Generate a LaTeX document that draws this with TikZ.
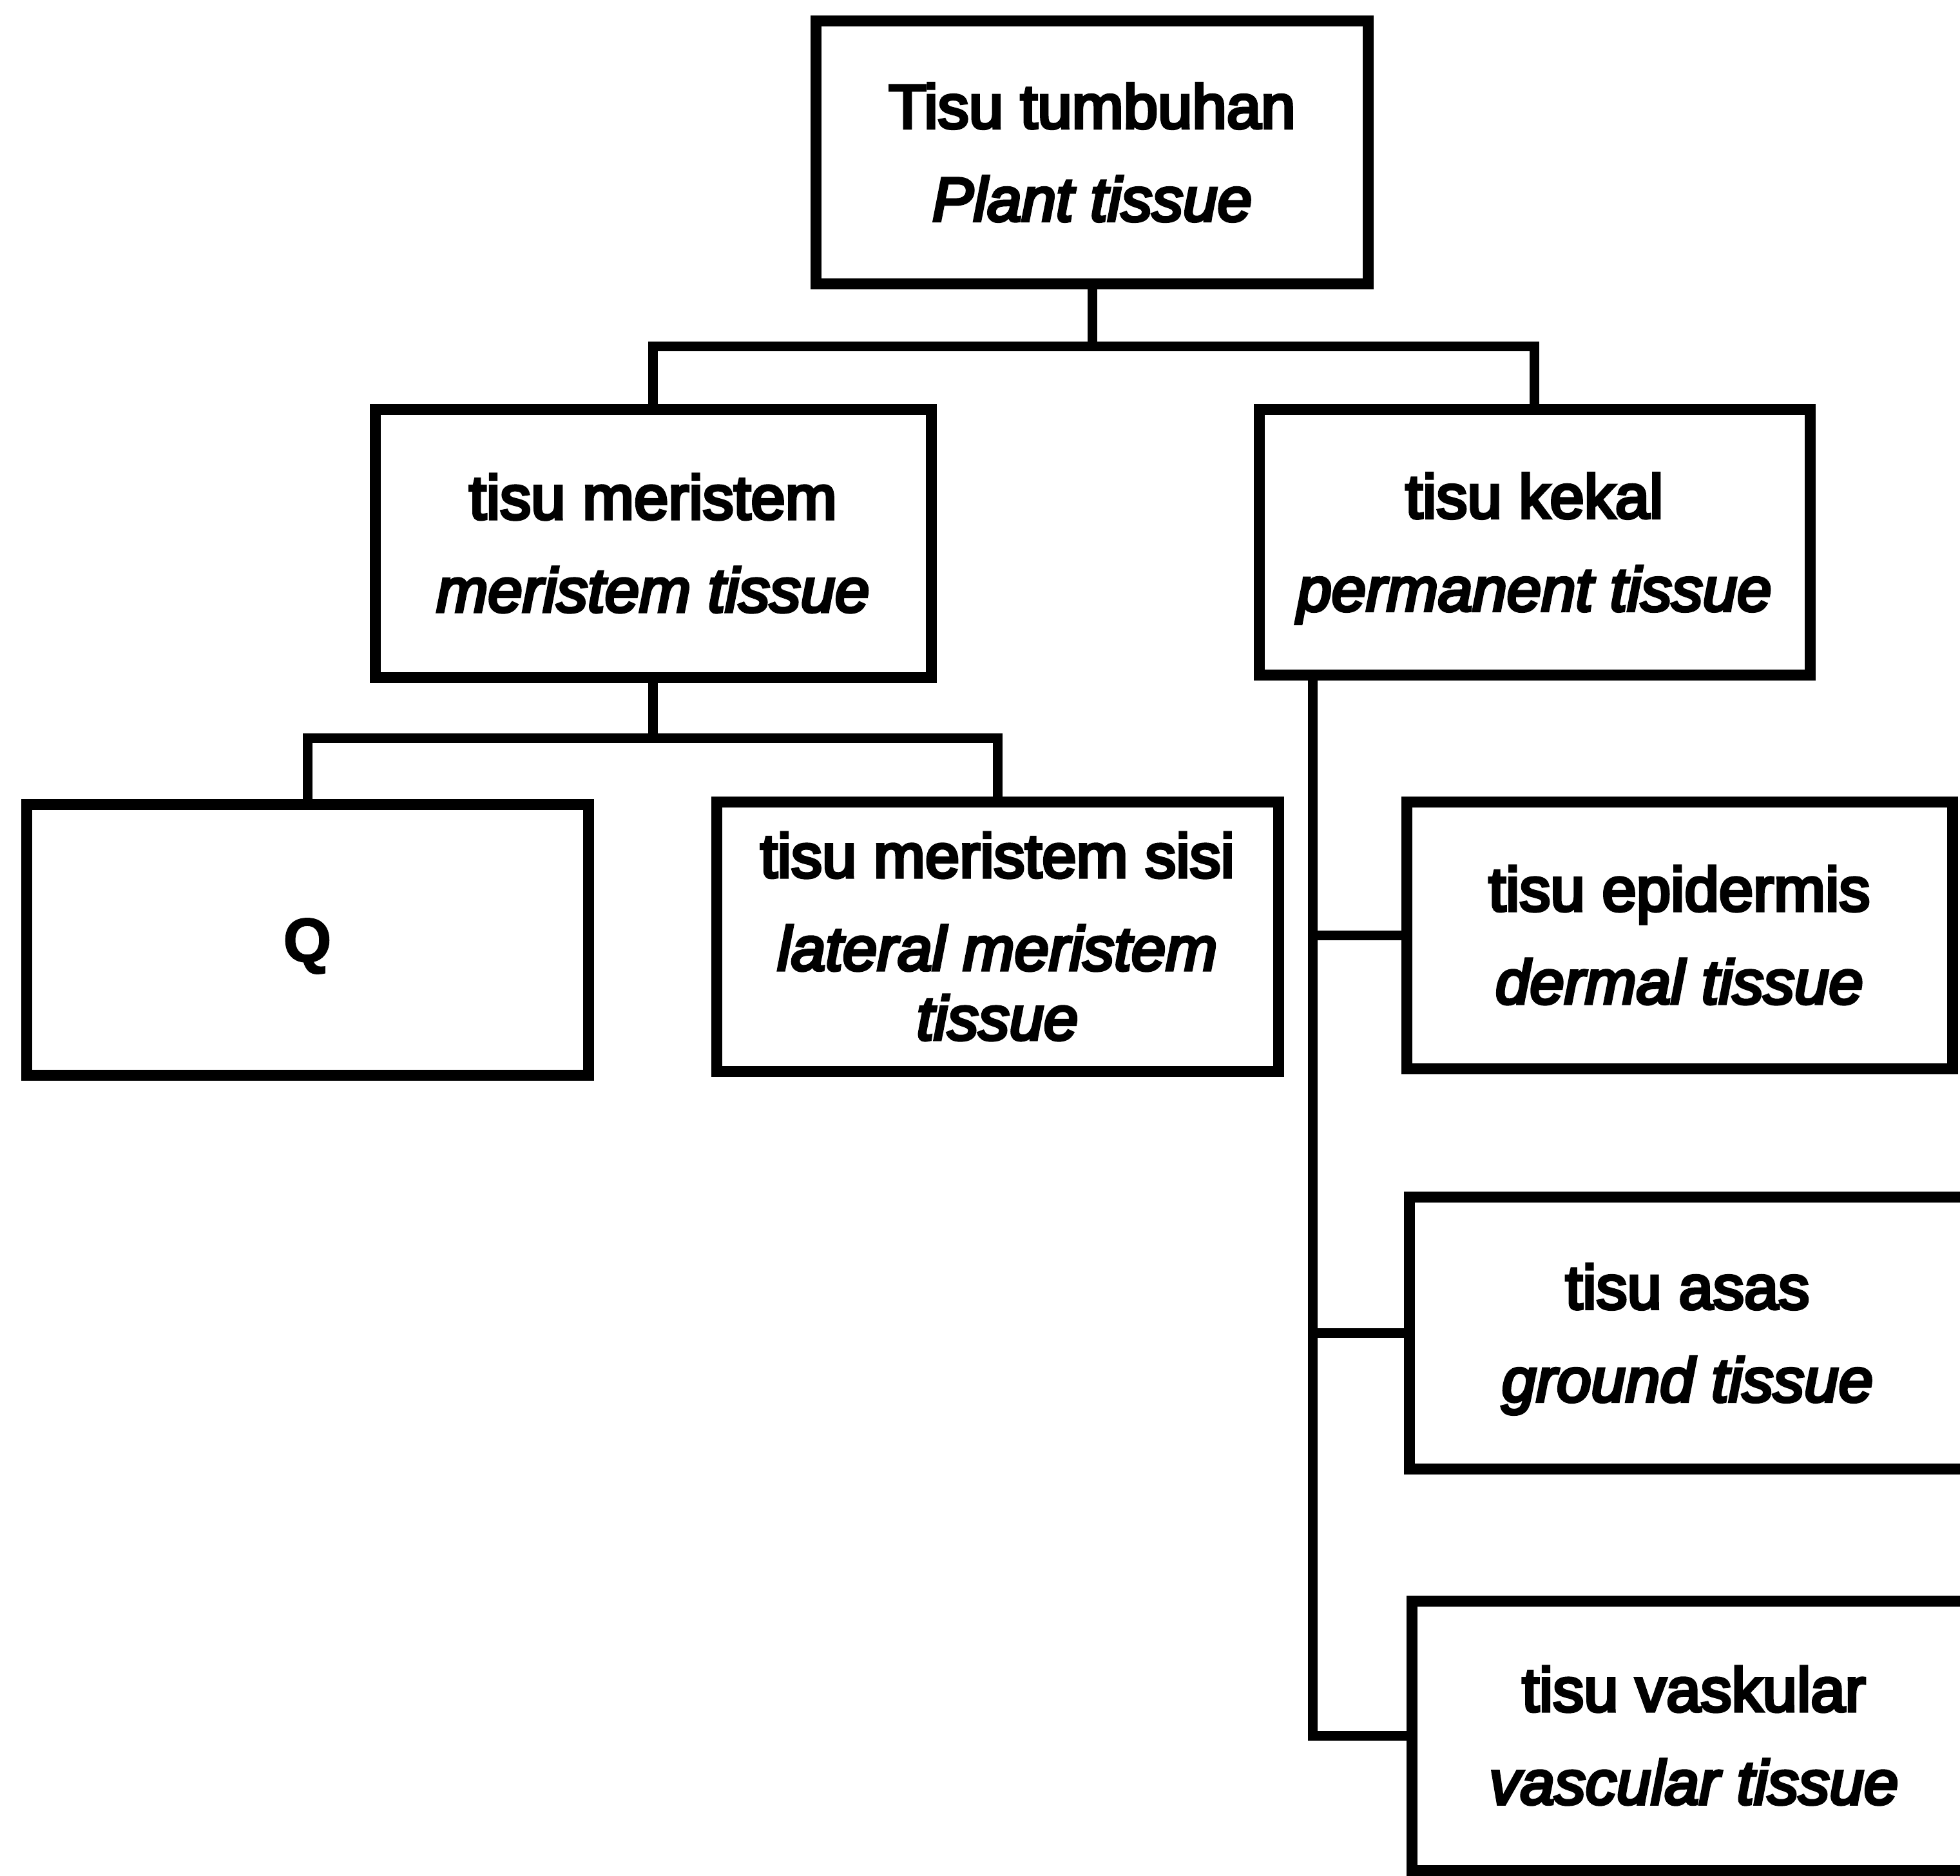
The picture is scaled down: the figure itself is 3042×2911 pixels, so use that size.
\documentclass[tikz,border=0pt]{standalone}
\usepackage{fontspec}
\setmainfont{Liberation Sans}[FakeBold=5,
  UprightFeatures={FakeBold=5},ItalicFeatures={FakeBold=5},BoldFeatures={FakeBold=2}]
\begin{document}
\begin{tikzpicture}[x=0.25pt,y=-0.25pt,
  box/.style={draw=black,line width=4.25pt,rectangle,outer sep=0pt,inner sep=0pt,
    align=center,font=\fontsize{24pt}{27pt}\selectfont},
  link/.style={draw=black,line width=3.75pt,line join=miter,line cap=rect}]
\useasboundingbox (0,0) rectangle (3042,2911);
\clip (0,0) rectangle (3042,2911);
\fill[white] (0,0) rectangle (3042,2911);

\node[box,minimum width=214.25pt,minimum height=101.75pt] (top) at (1695,236.5)
  {Tisu tumbuhan\\[9pt]\itshape Plant tissue};
\node[box,minimum width=215.75pt,minimum height=104pt] (mer) at (1013.5,843)
  {tisu meristem\\[9pt]\itshape meristem tissue};
\node[box,minimum width=213.75pt,minimum height=103pt] (kek) at (2381.5,841)
  {tisu kekal\\[9pt]\itshape \smash{permanent tissue}};
\node[box,minimum width=218pt,minimum height=105pt] (q) at (477,1458)
  {\raisebox{-2.5pt}[\height][\depth]{\bfseries Q}};
\node[box,minimum width=218pt,minimum height=104.5pt] (lat) at (1548,1453)
  {tisu meristem sisi\\[9pt]\itshape lateral meristem\\\itshape tissue};
\node[box,minimum width=211.75pt,minimum height=103.5pt] (epi) at (2606.5,1451)
  {tisu epidermis\\[9pt]\itshape dermal tissue};
\node[box,minimum width=216pt,minimum height=105.5pt] (asa) at (2619,2068)
  {tisu asas\\[9pt]\itshape \smash{ground tissue}};
\node[box,minimum width=219pt,minimum height=104.5pt] (vas) at (2629,2693)
  {tisu vaskular\\[9pt]\itshape vascular tissue};

\coordinate (j1) at (1695,537);
\coordinate (j2) at (1013.5,1145);
\coordinate (k0) at (2037,1047);

\draw[link] (top.south) -- (j1);
\draw[link] (mer.north) |- (j1) -| (kek.north);
\draw[link] (mer.south) -- (j2);
\draw[link] (q.north) |- (j2) -| (lat.north);
\draw[link] (k0) |- (vas.west);
\draw[link] (k0 |- epi.west) -- (epi.west);
\draw[link] (k0 |- asa.west) -- (asa.west);
\end{tikzpicture}
\end{document}
